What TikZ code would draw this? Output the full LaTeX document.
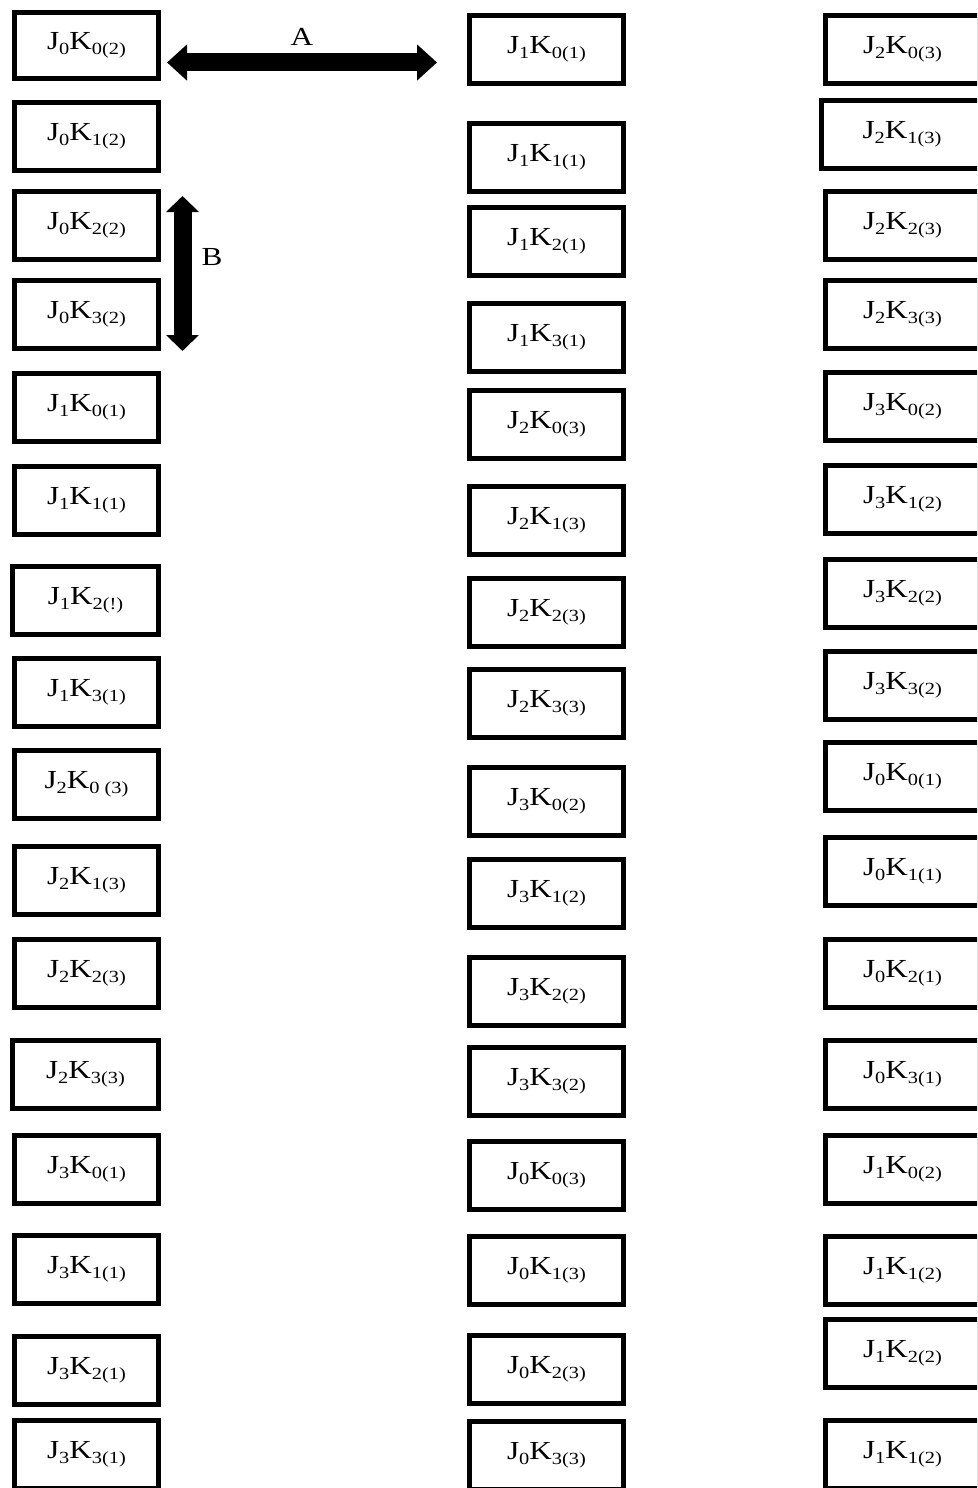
\documentclass[tikz,border=0pt]{standalone}
\usepackage{fontspec}
\usepackage{graphicx}
\setmainfont{Liberation Serif}
\usetikzlibrary{arrows.meta}
\newcommand{\lw}[1]{\raisebox{-5pt}{\fontsize{17pt}{17pt}\selectfont #1}}
\newcommand{\lbl}[1]{\scalebox{1.2}[1]{#1}}
\newcommand{\JK}[3]{\lbl{J\lw{#1}K\lw{#2#3}}}
\tikzset{
  cell/.style={draw=black, line width=5pt, rectangle, minimum height=68pt,
    inner sep=0pt, font=\fontsize{26pt}{30pt}\selectfont},
  lcol/.style={cell, minimum width=144pt},
  lcolw/.style={cell, minimum width=146pt},
  mcol/.style={cell, minimum width=154pt},
  rcol/.style={cell, minimum width=154pt},
  harrow/.style={line width=18pt, {Triangle[width=35pt,length=20pt]}-{Triangle[width=35pt,length=20pt]}},
  varrow/.style={line width=18pt, {Triangle[width=32pt,length=16pt]}-{Triangle[width=32pt,length=16pt]}},
  tag/.style={font=\fontsize{26pt}{30pt}\selectfont, inner sep=0pt}
}
\begin{document}
\begin{tikzpicture}[x=1pt,y=-1pt]
\useasboundingbox (0,0) rectangle (977,1488);
\clip (0,0) rectangle (977,1488);
% left column
\node[lcol, minimum height=66pt] (L1) at (86.5,45.5) {\JK{0}{0}{(2)}};
\node[lcol] (L2) at (86.5,136.5) {\JK{0}{1}{(2)}};
\node[lcol] (L3) at (86.5,225.5) {\JK{0}{2}{(2)}};
\node[lcol] (L4) at (86.5,314.5) {\JK{0}{3}{(2)}};
\node[lcol] (L5) at (86.5,407.5) {\JK{1}{0}{(1)}};
\node[lcol] (L6) at (86.5,500.5) {\JK{1}{1}{(1)}};
\node[lcolw] (L7) at (85.5,600.5) {\JK{1}{2}{(!)}};
\node[lcol] (L8) at (86.5,692.5) {\JK{1}{3}{(1)}};
\node[lcol] (L9) at (86.5,784.5) {\JK{2}{0}{ (3)}};
\node[lcol] (L10) at (86.5,880.5) {\JK{2}{1}{(3)}};
\node[lcol] (L11) at (86.5,973.5) {\JK{2}{2}{(3)}};
\node[lcolw] (L12) at (85.5,1074.5) {\JK{2}{3}{(3)}};
\node[lcol] (L13) at (86.5,1169.5) {\JK{3}{0}{(1)}};
\node[lcol] (L14) at (86.5,1269.5) {\JK{3}{1}{(1)}};
\node[lcol] (L15) at (86.5,1370.5) {\JK{3}{2}{(1)}};
\node[lcol] (L16) at (86.5,1454.5) {\JK{3}{3}{(1)}};
% middle column
\node[mcol] (M1) at (546.5,49.5) {\JK{1}{0}{(1)}};
\node[mcol] (M2) at (546.5,157.5) {\JK{1}{1}{(1)}};
\node[mcol] (M3) at (546.5,241.5) {\JK{1}{2}{(1)}};
\node[mcol] (M4) at (546.5,337.5) {\JK{1}{3}{(1)}};
\node[mcol] (M5) at (546.5,424.5) {\JK{2}{0}{(3)}};
\node[mcol] (M6) at (546.5,520.5) {\JK{2}{1}{(3)}};
\node[mcol] (M7) at (546.5,612.5) {\JK{2}{2}{(3)}};
\node[mcol] (M8) at (546.5,703.5) {\JK{2}{3}{(3)}};
\node[mcol] (M9) at (546.5,801.5) {\JK{3}{0}{(2)}};
\node[mcol] (M10) at (546.5,893.5) {\JK{3}{1}{(2)}};
\node[mcol] (M11) at (546.5,991.5) {\JK{3}{2}{(2)}};
\node[mcol] (M12) at (546.5,1081.5) {\JK{3}{3}{(2)}};
\node[mcol] (M13) at (546.5,1175.5) {\JK{0}{0}{(3)}};
\node[mcol] (M14) at (546.5,1270.5) {\JK{0}{1}{(3)}};
\node[mcol] (M15) at (546.5,1369.5) {\JK{0}{2}{(3)}};
\node[mcol] (M16) at (546.5,1455.5) {\JK{0}{3}{(3)}};
% right column
\node[rcol] (R1) at (902.5,49.5) {\JK{2}{0}{(3)}};
\node[rcol, minimum width=161pt] (R2) at (902,134.5) {\JK{2}{1}{(3)}};
\node[rcol] (R3) at (902.5,225.5) {\JK{2}{2}{(3)}};
\node[rcol] (R4) at (902.5,314.5) {\JK{2}{3}{(3)}};
\node[rcol] (R5) at (902.5,406.5) {\JK{3}{0}{(2)}};
\node[rcol] (R6) at (902.5,499.5) {\JK{3}{1}{(2)}};
\node[rcol] (R7) at (902.5,593.5) {\JK{3}{2}{(2)}};
\node[rcol] (R8) at (902.5,685.5) {\JK{3}{3}{(2)}};
\node[rcol] (R9) at (902.5,776.5) {\JK{0}{0}{(1)}};
\node[rcol] (R10) at (902.5,871.5) {\JK{0}{1}{(1)}};
\node[rcol] (R11) at (902.5,973.5) {\JK{0}{2}{(1)}};
\node[rcol] (R12) at (902.5,1074.5) {\JK{0}{3}{(1)}};
\node[rcol] (R13) at (902.5,1169.5) {\JK{1}{0}{(2)}};
\node[rcol] (R14) at (902.5,1270.5) {\JK{1}{1}{(2)}};
\node[rcol] (R15) at (902.5,1353.5) {\JK{1}{2}{(2)}};
\node[rcol] (R16) at (902.5,1454.5) {\JK{1}{1}{(2)}};
% arrows
\coordinate (aL) at (167,62.5);
\coordinate (aR) at (437,62.5);
\coordinate (bT) at (182.5,196);
\coordinate (bB) at (182.5,351);
\draw[harrow] (aL) -- (aR);
\draw[varrow] (bT) -- (bB);
\node[tag] (labA) at (302,37) {\lbl{A}};
\node[tag] (labB) at (212,257) {\lbl{B}};
\end{tikzpicture}
\end{document}
